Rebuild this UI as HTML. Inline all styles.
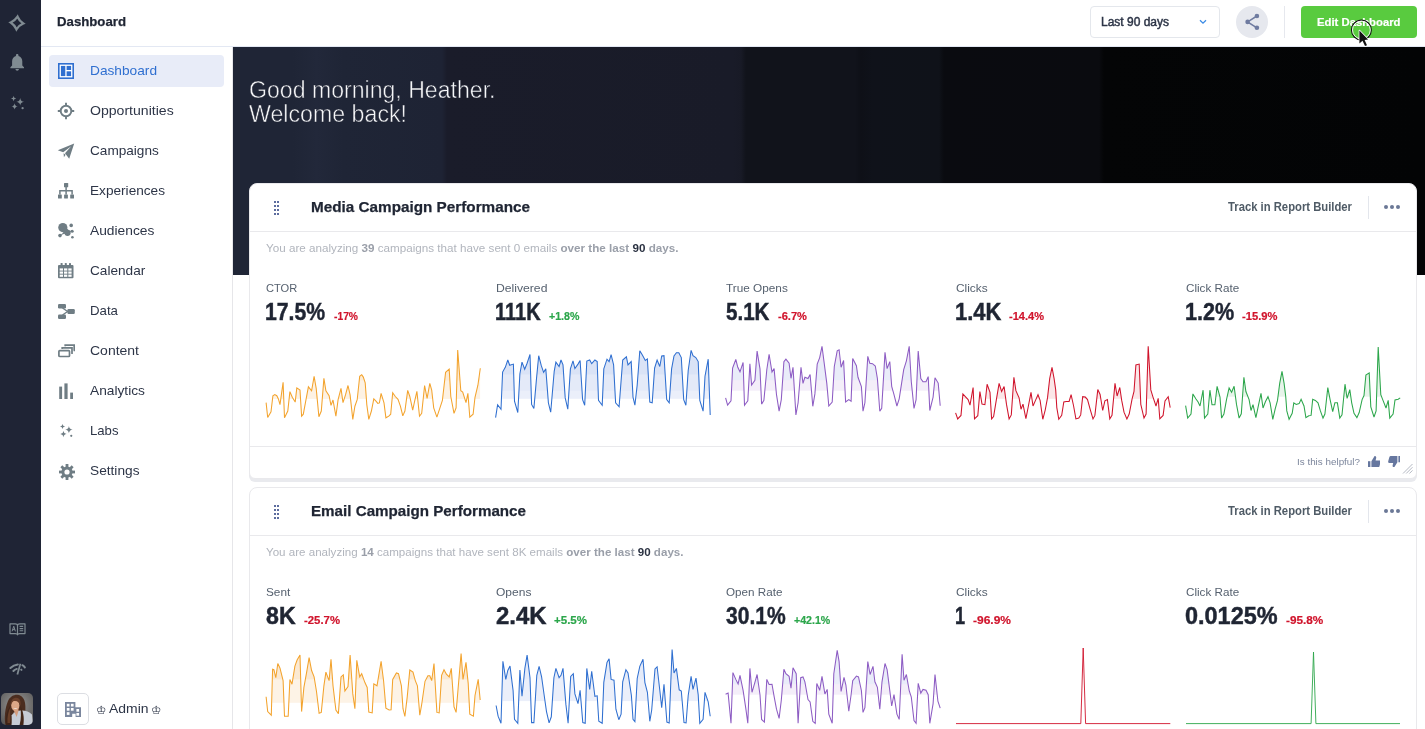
<!DOCTYPE html><html lang="en"><head><meta charset="utf-8"><title>Dashboard</title><style>
*{box-sizing:border-box;margin:0;padding:0}
html,body{width:1425px;height:729px;overflow:hidden;background:#fff;font-family:"Liberation Sans","DejaVu Sans",sans-serif;}
.t{position:absolute;white-space:nowrap;line-height:1;transform-origin:0 50%;display:block}
.abs{position:absolute}
.w{position:static;display:block;list-style:none;text-decoration:none;font:inherit}
h1,h2,h3,p,strong,em,a{font-style:normal}
#rail{position:absolute;left:0;top:0;width:41px;height:729px;background:#1f2435}
#topbar{position:absolute;left:41px;top:0;width:1384px;height:47px;background:#fff;border-bottom:1px solid #e3e8f3}
#sidebar{position:absolute;left:41px;top:47px;width:192px;height:682px;background:#fff;border-right:1px solid #e6e6e9}
#main{position:absolute;left:233px;top:47px;width:1192px;height:682px;background:#fff;overflow:hidden}
#hero{position:absolute;left:0;top:0;width:1192px;height:228px;
 background:linear-gradient(90deg,#1f2536 0px,#1f2536 60px,#22283a 84px,#1f2536 110px,#1e2334 209px,#1a1c2a 214px,#191b28 500px,#181a26 508px,#11131b 513px,#11131b 622px,#0e1017 628px,#0f121a 640px,#0f1219 706px,#0a0b10 711px,#0a0b0f 866px,#040506 871px,#030405 1192px)}
.card{position:absolute;left:16px;width:1168px;background:#fff;border:1px solid #e9e9ec;border-radius:8px 8px 6px 6px;box-shadow:0 3px 0 #e9eaee}
.hsep{position:absolute;left:0;right:0;height:1px;background:#e9e9ec}
.navact{position:absolute;left:8px;top:8px;width:175px;height:32px;border-radius:4px;background:#e8ecf8}
</style></head><body>
<main class="w">
<div id="main"><div id="hero"></div></div>
<div class="w greeting">
<h1 class="t" style="left:249.30px;top:78.50px;font-size:23px;font-weight:400;color:#f6f7f9;transform:scaleX(1.0041);-webkit-text-stroke:0.5px #1d2131;">Good morning, Heather.</h1>
<h1 class="t" style="left:249.30px;top:102.50px;font-size:23px;font-weight:400;color:#f6f7f9;transform:scaleX(1.0076);-webkit-text-stroke:0.5px #1d2131;">Welcome back!</h1>
</div>
<section class="w widget">
<div class="card" style="left:249px;top:183px;height:296px"></div>
<header class="w">
<svg class="abs" style="left:274px;top:201px" width="5" height="14" viewBox="0 0 5 14" shape-rendering="crispEdges"><rect x="0" y="0" width="2" height="2" fill="#5c6c9e"/><rect x="3" y="0" width="2" height="2" fill="#5c6c9e"/><rect x="0" y="4" width="2" height="2" fill="#5c6c9e"/><rect x="3" y="4" width="2" height="2" fill="#5c6c9e"/><rect x="0" y="8" width="2" height="2" fill="#5c6c9e"/><rect x="3" y="8" width="2" height="2" fill="#5c6c9e"/><rect x="0" y="12" width="2" height="2" fill="#5c6c9e"/><rect x="3" y="12" width="2" height="2" fill="#5c6c9e"/></svg>
<h2 class="t" style="left:311.00px;top:198.75px;font-size:15.5px;font-weight:700;color:#1f2533;transform:scaleX(0.9854);-webkit-text-stroke:0.25px #1f2533;">Media Campaign Performance</h2>
<a class="t" style="left:1228.40px;top:201.00px;font-size:12px;font-weight:700;color:#4f5b66;transform:scaleX(0.9392);">Track in Report Builder</a>
<div class="abs" style="left:1368px;top:196px;width:1px;height:23px;background:#e3e6ec"></div>
<svg class="abs" style="left:1383px;top:204px" width="18" height="6" viewBox="0 0 18 6"><circle cx="3" cy="3" r="2" fill="#6b7896"/><circle cx="9" cy="3" r="2" fill="#6b7896"/><circle cx="15" cy="3" r="2" fill="#6b7896"/></svg>
<div class="hsep" style="left:250px;width:1166px;top:231px"></div>
</header>
<p class="t" style="left:266.30px;top:242.50px;font-size:11px;font-weight:400;color:#b1b5bd;transform:scaleX(1.0599);">You are analyzing <b style="color:#9a9fa9">39</b> campaigns that have sent 0 emails <b style="color:#9a9fa9">over the last</b> <b style="color:#2b3242">90</b> <b style="color:#9a9fa9">days.</b></p>
<ul class="w metrics">
<li class="w metric">
<span class="t" style="left:266.00px;top:282.50px;font-size:11px;font-weight:400;color:#56616f;transform:scaleX(1.0107);">CTOR</span>
<strong class="t" style="left:264.60px;top:300.50px;font-size:23px;font-weight:700;color:#1f2533;transform:scaleX(0.9215);-webkit-text-stroke:0.45px #1f2533;">17.5%</strong>
<em class="t" style="left:333.50px;top:310.50px;font-size:11px;font-weight:700;color:#d0142c;transform:scaleX(0.9343);-webkit-text-stroke:0.2px #d0142c;">-17%</em>
<svg class="abs" style="left:260px;top:340px" width="230" height="95" viewBox="0 0 230 95"><defs><clipPath id="kc1"><path d="M6.1 95 L6.1 62.6 L7.7 77.5 L11.0 71.8 L12.9 55.7 L14.8 54.6 L16.8 55.7 L18.4 58.9 L20.0 64.6 L23.1 42.3 L24.5 77.8 L27.8 71.0 L29.9 51.6 L32.3 57.3 L35.2 62.1 L36.8 47.9 L40.0 50.0 L41.6 76.2 L43.3 74.2 L46.0 59.7 L48.4 46.8 L51.6 50.8 L54.1 36.3 L56.2 48.4 L58.9 76.7 L61.3 71.0 L63.9 38.4 L65.9 50.8 L69.1 55.7 L71.0 65.4 L73.0 60.0 L75.9 76.2 L78.1 59.7 L81.0 48.4 L83.0 62.6 L85.5 54.9 L88.0 45.5 L90.1 54.9 L92.8 79.4 L94.9 66.2 L97.2 59.7 L99.7 36.3 L101.7 34.7 L103.3 37.1 L105.2 42.8 L106.8 64.6 L108.8 79.4 L111.4 71.0 L113.8 58.9 L116.2 61.3 L117.8 63.3 L119.4 62.9 L121.1 53.3 L124.0 62.9 L125.9 77.8 L128.8 76.2 L130.7 74.2 L132.7 52.8 L135.3 56.5 L138.0 59.4 L140.4 66.2 L142.8 75.9 L144.9 71.0 L147.7 50.4 L149.8 56.5 L152.7 70.2 L154.6 61.3 L156.9 51.3 L159.5 76.2 L161.7 73.4 L164.6 45.5 L167.1 58.4 L169.8 43.3 L171.7 50.0 L173.7 67.8 L176.9 77.2 L179.2 70.2 L182.4 60.5 L185.6 32.3 L189.2 29.1 L190.8 56.5 L194.0 73.4 L196.1 67.8 L197.7 10.0 L200.8 50.8 L202.7 52.0 L206.0 62.6 L207.9 53.3 L209.8 77.2 L213.1 74.2 L215.0 57.3 L217.9 45.2 L220.3 28.2 L220.3 95Z"/></clipPath></defs><g clip-path="url(#kc1)"><rect x="12.6" y="0" width="207.7" height="58.9" fill="#fdf2e4"/><rect x="12.6" y="0" width="207.7" height="40.4" fill="#fcebd5"/></g><polyline points="6.1,62.6 7.7,77.5 11.0,71.8 12.9,55.7 14.8,54.6 16.8,55.7 18.4,58.9 20.0,64.6 23.1,42.3 24.5,77.8 27.8,71.0 29.9,51.6 32.3,57.3 35.2,62.1 36.8,47.9 40.0,50.0 41.6,76.2 43.3,74.2 46.0,59.7 48.4,46.8 51.6,50.8 54.1,36.3 56.2,48.4 58.9,76.7 61.3,71.0 63.9,38.4 65.9,50.8 69.1,55.7 71.0,65.4 73.0,60.0 75.9,76.2 78.1,59.7 81.0,48.4 83.0,62.6 85.5,54.9 88.0,45.5 90.1,54.9 92.8,79.4 94.9,66.2 97.2,59.7 99.7,36.3 101.7,34.7 103.3,37.1 105.2,42.8 106.8,64.6 108.8,79.4 111.4,71.0 113.8,58.9 116.2,61.3 117.8,63.3 119.4,62.9 121.1,53.3 124.0,62.9 125.9,77.8 128.8,76.2 130.7,74.2 132.7,52.8 135.3,56.5 138.0,59.4 140.4,66.2 142.8,75.9 144.9,71.0 147.7,50.4 149.8,56.5 152.7,70.2 154.6,61.3 156.9,51.3 159.5,76.2 161.7,73.4 164.6,45.5 167.1,58.4 169.8,43.3 171.7,50.0 173.7,67.8 176.9,77.2 179.2,70.2 182.4,60.5 185.6,32.3 189.2,29.1 190.8,56.5 194.0,73.4 196.1,67.8 197.7,10.0 200.8,50.8 202.7,52.0 206.0,62.6 207.9,53.3 209.8,77.2 213.1,74.2 215.0,57.3 217.9,45.2 220.3,28.2" fill="none" stroke="#f3a32d" stroke-width="1.05" stroke-linejoin="miter" stroke-miterlimit="3"/></svg>
</li>
<li class="w metric">
<span class="t" style="left:496.00px;top:282.50px;font-size:11px;font-weight:400;color:#56616f;transform:scaleX(1.1061);">Delivered</span>
<strong class="t" style="left:494.60px;top:300.50px;font-size:23px;font-weight:700;color:#1f2533;transform:scaleX(0.8693);-webkit-text-stroke:0.45px #1f2533;">111K</strong>
<em class="t" style="left:548.60px;top:310.50px;font-size:11px;font-weight:700;color:#2ca64b;transform:scaleX(0.9651);-webkit-text-stroke:0.2px #2ca64b;">+1.8%</em>
<svg class="abs" style="left:490px;top:335px" width="230" height="95" viewBox="0 0 230 95"><defs><clipPath id="kc2"><path d="M5.6 95 L5.6 82.6 L7.6 69.7 L11.0 74.2 L12.6 37.1 L15.3 32.3 L17.8 25.0 L19.7 30.3 L23.4 29.1 L24.5 66.2 L27.8 77.5 L29.9 38.7 L32.0 27.1 L34.7 34.2 L37.1 28.2 L40.0 19.4 L41.6 69.4 L43.9 73.4 L46.5 43.6 L48.7 20.7 L51.3 30.7 L53.6 37.4 L55.8 33.9 L58.4 67.8 L60.7 77.2 L64.2 36.3 L65.9 27.1 L69.1 31.5 L71.0 25.0 L73.0 29.9 L75.2 62.9 L77.8 74.2 L80.4 33.9 L83.0 25.8 L84.9 33.6 L88.0 29.1 L90.1 25.5 L92.6 64.6 L94.7 70.2 L96.8 26.1 L99.7 25.0 L101.7 28.7 L104.9 25.0 L107.2 26.6 L108.5 65.4 L112.2 70.2 L113.8 33.9 L117.0 24.2 L119.1 26.6 L121.1 19.7 L123.6 29.9 L125.6 67.8 L129.1 71.8 L132.7 25.0 L136.4 21.8 L138.0 29.9 L141.2 26.6 L143.0 62.1 L144.9 70.2 L147.2 50.0 L149.8 15.8 L152.5 20.2 L155.3 25.5 L157.4 23.9 L159.8 67.0 L162.2 67.8 L164.6 33.1 L167.1 25.0 L169.8 31.5 L171.7 21.0 L174.0 20.7 L176.7 64.6 L179.2 67.8 L181.6 33.9 L184.0 21.0 L186.4 17.8 L188.8 17.8 L191.3 22.6 L193.7 64.6 L195.9 70.2 L198.2 35.5 L201.1 15.3 L203.0 20.7 L205.8 22.6 L208.2 26.6 L209.8 65.4 L213.1 76.2 L215.0 41.2 L218.2 24.2 L220.2 79.9 L220.2 95Z"/></clipPath></defs><g clip-path="url(#kc2)"><rect x="12.3" y="0" width="207.9" height="63.8" fill="#ebeffa"/><rect x="12.3" y="0" width="207.9" height="55.7" fill="#e4eaf8"/><rect x="12.3" y="0" width="207.9" height="39.5" fill="#dae3f6"/></g><polyline points="5.6,82.6 7.6,69.7 11.0,74.2 12.6,37.1 15.3,32.3 17.8,25.0 19.7,30.3 23.4,29.1 24.5,66.2 27.8,77.5 29.9,38.7 32.0,27.1 34.7,34.2 37.1,28.2 40.0,19.4 41.6,69.4 43.9,73.4 46.5,43.6 48.7,20.7 51.3,30.7 53.6,37.4 55.8,33.9 58.4,67.8 60.7,77.2 64.2,36.3 65.9,27.1 69.1,31.5 71.0,25.0 73.0,29.9 75.2,62.9 77.8,74.2 80.4,33.9 83.0,25.8 84.9,33.6 88.0,29.1 90.1,25.5 92.6,64.6 94.7,70.2 96.8,26.1 99.7,25.0 101.7,28.7 104.9,25.0 107.2,26.6 108.5,65.4 112.2,70.2 113.8,33.9 117.0,24.2 119.1,26.6 121.1,19.7 123.6,29.9 125.6,67.8 129.1,71.8 132.7,25.0 136.4,21.8 138.0,29.9 141.2,26.6 143.0,62.1 144.9,70.2 147.2,50.0 149.8,15.8 152.5,20.2 155.3,25.5 157.4,23.9 159.8,67.0 162.2,67.8 164.6,33.1 167.1,25.0 169.8,31.5 171.7,21.0 174.0,20.7 176.7,64.6 179.2,67.8 181.6,33.9 184.0,21.0 186.4,17.8 188.8,17.8 191.3,22.6 193.7,64.6 195.9,70.2 198.2,35.5 201.1,15.3 203.0,20.7 205.8,22.6 208.2,26.6 209.8,65.4 213.1,76.2 215.0,41.2 218.2,24.2 220.2,79.9" fill="none" stroke="#2f6fd0" stroke-width="1.05" stroke-linejoin="miter" stroke-miterlimit="3"/></svg>
</li>
<li class="w metric">
<span class="t" style="left:726.00px;top:282.50px;font-size:11px;font-weight:400;color:#56616f;transform:scaleX(1.0713);">True Opens</span>
<strong class="t" style="left:725.50px;top:300.50px;font-size:23px;font-weight:700;color:#1f2533;transform:scaleX(0.8952);-webkit-text-stroke:0.45px #1f2533;">5.1K</strong>
<em class="t" style="left:777.50px;top:310.50px;font-size:11px;font-weight:700;color:#d0142c;transform:scaleX(1.0087);-webkit-text-stroke:0.2px #d0142c;">-6.7%</em>
<svg class="abs" style="left:720px;top:335px" width="230" height="95" viewBox="0 0 230 95"><defs><clipPath id="kc3"><path d="M5.6 95 L5.6 62.9 L7.6 70.2 L11.0 65.9 L12.6 33.1 L15.8 24.5 L17.8 32.3 L20.0 36.8 L23.1 27.4 L24.5 70.2 L27.8 65.9 L29.9 28.7 L31.6 50.0 L34.9 45.2 L37.1 16.1 L40.0 33.9 L41.6 69.1 L43.9 65.4 L46.8 34.7 L49.1 19.4 L52.0 37.1 L54.1 33.6 L56.5 59.7 L59.1 76.2 L61.3 64.6 L63.9 26.6 L65.9 24.2 L69.1 28.2 L71.0 43.3 L73.0 32.3 L75.9 79.9 L78.1 67.8 L81.0 32.3 L83.0 48.4 L84.9 42.3 L88.0 43.6 L90.1 39.5 L92.8 71.3 L94.9 58.9 L97.2 29.1 L99.7 22.6 L102.0 11.3 L104.1 27.4 L106.8 48.4 L108.8 71.0 L112.2 67.0 L114.3 31.5 L117.2 15.8 L119.1 14.8 L121.1 32.3 L123.6 25.5 L125.6 67.0 L128.8 64.6 L131.1 66.2 L132.7 23.4 L136.4 30.7 L138.0 42.3 L141.4 51.6 L143.0 76.2 L144.9 67.8 L147.8 21.3 L149.8 28.2 L152.5 28.7 L155.3 31.0 L157.4 43.6 L159.8 76.2 L161.7 73.4 L165.0 17.4 L167.1 33.6 L169.8 26.6 L171.7 51.3 L174.0 59.7 L176.9 71.0 L179.2 63.8 L183.7 34.7 L186.4 25.8 L189.2 11.3 L191.3 46.8 L194.0 73.4 L196.1 64.6 L198.2 16.1 L200.8 43.6 L203.0 46.8 L206.0 46.8 L208.2 41.6 L209.8 75.5 L213.1 62.1 L215.0 42.8 L218.2 48.1 L220.2 70.7 L220.2 95Z"/></clipPath></defs><g clip-path="url(#kc3)"><rect x="12.3" y="0" width="207.9" height="55.7" fill="#f4eef9"/><rect x="12.3" y="0" width="207.9" height="45.2" fill="#e9ecf9"/><rect x="12.3" y="0" width="207.9" height="26.6" fill="#f0e8f7"/></g><polyline points="5.6,62.9 7.6,70.2 11.0,65.9 12.6,33.1 15.8,24.5 17.8,32.3 20.0,36.8 23.1,27.4 24.5,70.2 27.8,65.9 29.9,28.7 31.6,50.0 34.9,45.2 37.1,16.1 40.0,33.9 41.6,69.1 43.9,65.4 46.8,34.7 49.1,19.4 52.0,37.1 54.1,33.6 56.5,59.7 59.1,76.2 61.3,64.6 63.9,26.6 65.9,24.2 69.1,28.2 71.0,43.3 73.0,32.3 75.9,79.9 78.1,67.8 81.0,32.3 83.0,48.4 84.9,42.3 88.0,43.6 90.1,39.5 92.8,71.3 94.9,58.9 97.2,29.1 99.7,22.6 102.0,11.3 104.1,27.4 106.8,48.4 108.8,71.0 112.2,67.0 114.3,31.5 117.2,15.8 119.1,14.8 121.1,32.3 123.6,25.5 125.6,67.0 128.8,64.6 131.1,66.2 132.7,23.4 136.4,30.7 138.0,42.3 141.4,51.6 143.0,76.2 144.9,67.8 147.8,21.3 149.8,28.2 152.5,28.7 155.3,31.0 157.4,43.6 159.8,76.2 161.7,73.4 165.0,17.4 167.1,33.6 169.8,26.6 171.7,51.3 174.0,59.7 176.9,71.0 179.2,63.8 183.7,34.7 186.4,25.8 189.2,11.3 191.3,46.8 194.0,73.4 196.1,64.6 198.2,16.1 200.8,43.6 203.0,46.8 206.0,46.8 208.2,41.6 209.8,75.5 213.1,62.1 215.0,42.8 218.2,48.1 220.2,70.7" fill="none" stroke="#8d5cc3" stroke-width="1.05" stroke-linejoin="miter" stroke-miterlimit="3"/></svg>
</li>
<li class="w metric">
<span class="t" style="left:956.00px;top:282.50px;font-size:11px;font-weight:400;color:#56616f;transform:scaleX(1.0803);">Clicks</span>
<strong class="t" style="left:954.60px;top:300.50px;font-size:23px;font-weight:700;color:#1f2533;transform:scaleX(0.9549);-webkit-text-stroke:0.45px #1f2533;">1.4K</strong>
<em class="t" style="left:1009.30px;top:310.50px;font-size:11px;font-weight:700;color:#d0142c;transform:scaleX(1.0040);-webkit-text-stroke:0.2px #d0142c;">-14.4%</em>
<svg class="abs" style="left:950px;top:335px" width="230" height="95" viewBox="0 0 230 95"><defs><clipPath id="kc4"><path d="M5.6 95 L5.6 77.8 L7.7 83.9 L11.0 80.4 L12.9 58.9 L15.8 62.1 L18.1 64.6 L20.0 70.2 L23.1 52.5 L24.5 83.9 L27.8 80.7 L29.9 56.5 L32.0 69.1 L34.9 69.7 L37.1 49.2 L40.0 57.3 L41.6 83.9 L43.6 81.5 L46.5 63.8 L49.1 48.4 L51.6 56.5 L54.1 51.6 L56.5 69.4 L59.1 83.9 L61.3 79.9 L63.9 42.3 L65.9 55.7 L69.1 62.9 L71.0 74.2 L73.0 69.1 L75.9 83.6 L78.4 71.0 L81.0 57.3 L83.0 71.0 L85.5 65.4 L88.0 59.7 L90.1 65.4 L92.8 84.3 L95.2 75.1 L97.5 62.9 L99.7 43.6 L102.0 32.3 L104.1 43.6 L105.7 54.9 L106.8 72.6 L108.8 84.3 L111.7 80.4 L113.8 67.0 L116.2 66.5 L119.1 66.5 L121.1 59.7 L123.6 71.0 L125.9 83.9 L128.8 83.1 L130.7 79.9 L132.7 61.7 L135.3 62.1 L137.5 64.6 L140.4 75.1 L143.0 83.9 L144.9 80.4 L147.8 54.6 L150.1 59.4 L152.7 75.5 L154.9 65.9 L157.4 64.6 L159.8 83.9 L162.0 80.4 L165.0 48.4 L167.1 61.0 L169.8 52.5 L171.7 65.4 L174.0 77.2 L176.9 83.9 L179.2 79.1 L182.1 63.8 L184.0 56.5 L185.9 29.9 L189.2 29.1 L190.8 69.4 L194.0 83.1 L196.1 79.1 L198.2 11.3 L200.8 54.9 L203.0 62.1 L206.0 71.0 L208.2 63.3 L209.8 83.9 L213.1 80.4 L215.0 65.9 L218.2 61.7 L220.2 72.6 L220.2 95Z"/></clipPath></defs><g clip-path="url(#kc4)"><rect x="12.6" y="0" width="207.5" height="63.8" fill="#fbe6e8"/></g><polyline points="5.6,77.8 7.7,83.9 11.0,80.4 12.9,58.9 15.8,62.1 18.1,64.6 20.0,70.2 23.1,52.5 24.5,83.9 27.8,80.7 29.9,56.5 32.0,69.1 34.9,69.7 37.1,49.2 40.0,57.3 41.6,83.9 43.6,81.5 46.5,63.8 49.1,48.4 51.6,56.5 54.1,51.6 56.5,69.4 59.1,83.9 61.3,79.9 63.9,42.3 65.9,55.7 69.1,62.9 71.0,74.2 73.0,69.1 75.9,83.6 78.4,71.0 81.0,57.3 83.0,71.0 85.5,65.4 88.0,59.7 90.1,65.4 92.8,84.3 95.2,75.1 97.5,62.9 99.7,43.6 102.0,32.3 104.1,43.6 105.7,54.9 106.8,72.6 108.8,84.3 111.7,80.4 113.8,67.0 116.2,66.5 119.1,66.5 121.1,59.7 123.6,71.0 125.9,83.9 128.8,83.1 130.7,79.9 132.7,61.7 135.3,62.1 137.5,64.6 140.4,75.1 143.0,83.9 144.9,80.4 147.8,54.6 150.1,59.4 152.7,75.5 154.9,65.9 157.4,64.6 159.8,83.9 162.0,80.4 165.0,48.4 167.1,61.0 169.8,52.5 171.7,65.4 174.0,77.2 176.9,83.9 179.2,79.1 182.1,63.8 184.0,56.5 185.9,29.9 189.2,29.1 190.8,69.4 194.0,83.1 196.1,79.1 198.2,11.3 200.8,54.9 203.0,62.1 206.0,71.0 208.2,63.3 209.8,83.9 213.1,80.4 215.0,65.9 218.2,61.7 220.2,72.6" fill="none" stroke="#d0142c" stroke-width="1.05" stroke-linejoin="miter" stroke-miterlimit="3"/></svg>
</li>
<li class="w metric">
<span class="t" style="left:1186.00px;top:282.50px;font-size:11px;font-weight:400;color:#56616f;transform:scaleX(1.0613);">Click Rate</span>
<strong class="t" style="left:1184.60px;top:300.50px;font-size:23px;font-weight:700;color:#1f2533;transform:scaleX(0.9383);-webkit-text-stroke:0.45px #1f2533;">1.2%</strong>
<em class="t" style="left:1242.10px;top:310.50px;font-size:11px;font-weight:700;color:#d0142c;transform:scaleX(1.0155);-webkit-text-stroke:0.2px #d0142c;">-15.9%</em>
<svg class="abs" style="left:1180px;top:335px" width="230" height="95" viewBox="0 0 230 95"><defs><clipPath id="kc5"><path d="M5.6 95 L5.6 70.7 L7.7 83.1 L11.0 79.1 L12.9 58.9 L15.8 63.8 L18.1 67.0 L20.0 71.0 L23.1 55.2 L24.5 83.1 L27.8 79.1 L29.9 55.2 L32.0 69.7 L34.9 69.7 L37.1 51.3 L40.0 62.1 L41.6 83.1 L43.9 79.1 L46.5 64.6 L49.1 52.9 L51.6 57.3 L54.1 51.3 L56.5 69.4 L59.1 83.1 L61.3 78.8 L63.9 42.3 L65.9 56.5 L69.1 64.6 L71.0 75.5 L73.0 69.7 L75.9 82.6 L78.4 70.7 L81.0 58.4 L83.0 73.0 L85.5 66.5 L88.0 61.7 L90.1 67.8 L92.8 84.3 L95.2 73.9 L97.5 65.4 L99.7 48.4 L102.0 36.3 L104.1 48.4 L105.7 61.3 L106.8 75.9 L109.1 84.3 L112.2 78.3 L113.8 67.8 L116.2 69.4 L119.1 68.6 L121.1 64.2 L124.0 71.0 L125.9 82.6 L128.8 80.7 L131.1 80.4 L132.7 64.2 L135.3 65.4 L138.0 67.8 L140.4 75.9 L143.0 83.1 L144.9 79.1 L147.8 52.5 L150.1 64.6 L152.7 76.7 L154.9 67.8 L157.4 67.8 L159.8 83.1 L162.0 79.9 L165.0 49.2 L167.1 63.3 L169.8 54.6 L171.7 67.8 L174.0 78.3 L176.9 82.6 L179.2 77.5 L182.1 64.6 L184.0 60.5 L185.9 40.0 L189.2 37.9 L190.8 71.8 L194.0 82.0 L196.1 75.9 L198.2 12.1 L200.8 59.7 L203.0 65.4 L206.0 73.0 L208.2 65.4 L209.8 83.1 L213.1 79.1 L215.0 64.9 L218.2 64.2 L220.2 62.9 L220.2 95Z"/></clipPath></defs><g clip-path="url(#kc5)"><rect x="12.6" y="0" width="207.5" height="61.7" fill="#e7f4ea"/></g><polyline points="5.6,70.7 7.7,83.1 11.0,79.1 12.9,58.9 15.8,63.8 18.1,67.0 20.0,71.0 23.1,55.2 24.5,83.1 27.8,79.1 29.9,55.2 32.0,69.7 34.9,69.7 37.1,51.3 40.0,62.1 41.6,83.1 43.9,79.1 46.5,64.6 49.1,52.9 51.6,57.3 54.1,51.3 56.5,69.4 59.1,83.1 61.3,78.8 63.9,42.3 65.9,56.5 69.1,64.6 71.0,75.5 73.0,69.7 75.9,82.6 78.4,70.7 81.0,58.4 83.0,73.0 85.5,66.5 88.0,61.7 90.1,67.8 92.8,84.3 95.2,73.9 97.5,65.4 99.7,48.4 102.0,36.3 104.1,48.4 105.7,61.3 106.8,75.9 109.1,84.3 112.2,78.3 113.8,67.8 116.2,69.4 119.1,68.6 121.1,64.2 124.0,71.0 125.9,82.6 128.8,80.7 131.1,80.4 132.7,64.2 135.3,65.4 138.0,67.8 140.4,75.9 143.0,83.1 144.9,79.1 147.8,52.5 150.1,64.6 152.7,76.7 154.9,67.8 157.4,67.8 159.8,83.1 162.0,79.9 165.0,49.2 167.1,63.3 169.8,54.6 171.7,67.8 174.0,78.3 176.9,82.6 179.2,77.5 182.1,64.6 184.0,60.5 185.9,40.0 189.2,37.9 190.8,71.8 194.0,82.0 196.1,75.9 198.2,12.1 200.8,59.7 203.0,65.4 206.0,73.0 208.2,65.4 209.8,83.1 213.1,79.1 215.0,64.9 218.2,64.2 220.2,62.9" fill="none" stroke="#2ca64b" stroke-width="1.05" stroke-linejoin="miter" stroke-miterlimit="3"/></svg>
</li>
</ul>
<footer class="w">
<div class="hsep" style="left:250px;width:1166px;top:446px"></div>
<span class="t" style="left:1296.80px;top:456.75px;font-size:9.5px;font-weight:400;color:#7c869c;transform:scaleX(1.0373);">Is this helpful?</span>
<svg class="abs" style="left:1367.6px;top:456px" width="12.8" height="11.4" viewBox="0 0 12.8 11.4"><path fill="#66779f" d="M0 5.2H2.4V11.4H0Z"/><path fill="#66779f" d="M3.4 11.4V5.2 L6.6 0 C7.8 0 8.4 0.9 8.2 2 L7.6 4.4H11.2C12.2 4.4 12.8 5.2 12.6 6.1 L11.4 10.4 C11.2 11 10.7 11.4 10 11.4Z"/></svg><svg class="abs" style="left:1387.6px;top:456px" width="12.8" height="11.4" viewBox="0 0 12.8 11.4"><g transform="translate(12.8 11.4) rotate(180)"><path fill="#66779f" d="M0 5.2H2.4V11.4H0Z"/><path fill="#66779f" d="M3.4 11.4V5.2 L6.6 0 C7.8 0 8.4 0.9 8.2 2 L7.6 4.4H11.2C12.2 4.4 12.8 5.2 12.6 6.1 L11.4 10.4 C11.2 11 10.7 11.4 10 11.4Z"/></g></svg><svg class="abs" style="left:1402px;top:463px" width="11" height="11" viewBox="0 0 11 11"><path d="M10.5 1 L1 10.5 M10.5 4.2 L4.2 10.5 M10.5 7.4 L7.4 10.5" stroke="#b4b9c3" stroke-width="1" fill="none"/></svg>
</footer>
</section>
<section class="w widget">
<div class="card" style="left:249px;top:487px;height:300px"></div>
<header class="w">
<svg class="abs" style="left:274px;top:505px" width="5" height="14" viewBox="0 0 5 14" shape-rendering="crispEdges"><rect x="0" y="0" width="2" height="2" fill="#5c6c9e"/><rect x="3" y="0" width="2" height="2" fill="#5c6c9e"/><rect x="0" y="4" width="2" height="2" fill="#5c6c9e"/><rect x="3" y="4" width="2" height="2" fill="#5c6c9e"/><rect x="0" y="8" width="2" height="2" fill="#5c6c9e"/><rect x="3" y="8" width="2" height="2" fill="#5c6c9e"/><rect x="0" y="12" width="2" height="2" fill="#5c6c9e"/><rect x="3" y="12" width="2" height="2" fill="#5c6c9e"/></svg>
<h2 class="t" style="left:311.00px;top:502.75px;font-size:15.5px;font-weight:700;color:#1f2533;transform:scaleX(0.9787);-webkit-text-stroke:0.25px #1f2533;">Email Campaign Performance</h2>
<a class="t" style="left:1228.40px;top:505.00px;font-size:12px;font-weight:700;color:#4f5b66;transform:scaleX(0.9392);">Track in Report Builder</a>
<div class="abs" style="left:1368px;top:500px;width:1px;height:23px;background:#e3e6ec"></div>
<svg class="abs" style="left:1383px;top:508px" width="18" height="6" viewBox="0 0 18 6"><circle cx="3" cy="3" r="2" fill="#6b7896"/><circle cx="9" cy="3" r="2" fill="#6b7896"/><circle cx="15" cy="3" r="2" fill="#6b7896"/></svg>
<div class="hsep" style="left:250px;width:1166px;top:535px"></div>
</header>
<p class="t" style="left:266.30px;top:546.50px;font-size:11px;font-weight:400;color:#b1b5bd;transform:scaleX(1.0529);">You are analyzing <b style="color:#9a9fa9">14</b> campaigns that have sent 8K emails <b style="color:#9a9fa9">over the last</b> <b style="color:#2b3242">90</b> <b style="color:#9a9fa9">days.</b></p>
<ul class="w metrics">
<li class="w metric">
<span class="t" style="left:266.00px;top:586.50px;font-size:11px;font-weight:400;color:#56616f;transform:scaleX(1.0733);">Sent</span>
<strong class="t" style="left:265.50px;top:604.50px;font-size:23px;font-weight:700;color:#1f2533;transform:scaleX(1.0066);-webkit-text-stroke:0.45px #1f2533;">8K</strong>
<em class="t" style="left:303.50px;top:614.50px;font-size:11px;font-weight:700;color:#d0142c;transform:scaleX(1.0327);-webkit-text-stroke:0.2px #d0142c;">-25.7%</em>
<svg class="abs" style="left:260px;top:639px" width="230" height="95" viewBox="0 0 230 95"><defs><clipPath id="kc6"><path d="M6.1 95 L6.1 57.8 L7.7 72.6 L11.3 76.2 L12.6 30.3 L13.9 30.7 L15.8 38.7 L17.8 24.5 L20.0 29.1 L23.1 41.6 L24.5 77.2 L28.2 77.2 L29.9 40.4 L32.0 45.2 L34.9 27.1 L37.1 21.0 L40.0 16.1 L41.6 72.6 L43.9 48.4 L46.8 32.3 L49.1 18.6 L51.6 31.5 L54.1 37.9 L56.5 52.5 L59.1 74.2 L61.3 73.4 L63.9 46.8 L65.9 33.1 L69.1 41.6 L71.0 20.2 L73.0 46.8 L75.9 71.0 L78.4 74.6 L81.0 37.9 L83.3 35.8 L84.9 52.0 L88.0 47.6 L90.1 16.1 L92.8 54.9 L94.9 69.7 L96.8 21.3 L99.7 37.9 L101.7 34.7 L104.9 43.6 L107.2 48.4 L108.8 73.0 L112.2 73.9 L113.8 44.9 L117.0 46.8 L121.1 22.3 L123.6 42.0 L125.9 69.1 L129.1 71.0 L131.1 70.7 L132.7 40.4 L136.4 33.9 L138.5 34.7 L141.4 46.8 L143.0 69.7 L144.9 77.5 L147.2 58.1 L149.8 31.0 L153.0 33.1 L155.3 41.6 L157.4 46.8 L159.8 76.2 L161.7 65.4 L165.0 42.3 L167.9 36.8 L169.8 36.8 L171.7 41.6 L174.0 24.5 L176.9 73.4 L179.2 73.9 L181.6 36.3 L184.0 30.7 L186.4 35.2 L189.2 37.9 L191.3 29.4 L194.0 67.8 L196.1 73.4 L198.8 41.2 L201.1 14.5 L203.0 40.4 L206.0 23.4 L208.2 44.4 L209.8 75.1 L213.4 77.2 L215.0 56.5 L218.2 40.4 L220.2 61.0 L220.2 95Z"/></clipPath></defs><g clip-path="url(#kc6)"><rect x="12.3" y="0" width="207.9" height="63.8" fill="#fdf3e6"/><rect x="12.3" y="0" width="207.9" height="40.4" fill="#fbe9d2"/></g><polyline points="6.1,57.8 7.7,72.6 11.3,76.2 12.6,30.3 13.9,30.7 15.8,38.7 17.8,24.5 20.0,29.1 23.1,41.6 24.5,77.2 28.2,77.2 29.9,40.4 32.0,45.2 34.9,27.1 37.1,21.0 40.0,16.1 41.6,72.6 43.9,48.4 46.8,32.3 49.1,18.6 51.6,31.5 54.1,37.9 56.5,52.5 59.1,74.2 61.3,73.4 63.9,46.8 65.9,33.1 69.1,41.6 71.0,20.2 73.0,46.8 75.9,71.0 78.4,74.6 81.0,37.9 83.3,35.8 84.9,52.0 88.0,47.6 90.1,16.1 92.8,54.9 94.9,69.7 96.8,21.3 99.7,37.9 101.7,34.7 104.9,43.6 107.2,48.4 108.8,73.0 112.2,73.9 113.8,44.9 117.0,46.8 121.1,22.3 123.6,42.0 125.9,69.1 129.1,71.0 131.1,70.7 132.7,40.4 136.4,33.9 138.5,34.7 141.4,46.8 143.0,69.7 144.9,77.5 147.2,58.1 149.8,31.0 153.0,33.1 155.3,41.6 157.4,46.8 159.8,76.2 161.7,65.4 165.0,42.3 167.9,36.8 169.8,36.8 171.7,41.6 174.0,24.5 176.9,73.4 179.2,73.9 181.6,36.3 184.0,30.7 186.4,35.2 189.2,37.9 191.3,29.4 194.0,67.8 196.1,73.4 198.8,41.2 201.1,14.5 203.0,40.4 206.0,23.4 208.2,44.4 209.8,75.1 213.4,77.2 215.0,56.5 218.2,40.4 220.2,61.0" fill="none" stroke="#f3a32d" stroke-width="1.05" stroke-linejoin="miter" stroke-miterlimit="3"/></svg>
</li>
<li class="w metric">
<span class="t" style="left:496.00px;top:586.50px;font-size:11px;font-weight:400;color:#56616f;transform:scaleX(1.0919);">Opens</span>
<strong class="t" style="left:495.50px;top:604.50px;font-size:23px;font-weight:700;color:#1f2533;transform:scaleX(1.0413);-webkit-text-stroke:0.45px #1f2533;">2.4K</strong>
<em class="t" style="left:554.00px;top:614.50px;font-size:11px;font-weight:700;color:#2ca64b;transform:scaleX(1.0476);-webkit-text-stroke:0.2px #2ca64b;">+5.5%</em>
<svg class="abs" style="left:490px;top:639px" width="230" height="95" viewBox="0 0 230 95"><defs><clipPath id="kc7"><path d="M6.1 95 L6.1 66.5 L8.1 77.2 L11.0 84.3 L12.9 22.3 L15.8 40.4 L17.8 31.5 L20.0 27.1 L23.1 51.6 L24.5 80.4 L27.8 84.3 L29.9 31.0 L32.0 57.3 L34.9 29.1 L37.1 16.1 L40.0 38.7 L41.6 83.6 L43.9 83.6 L46.8 36.3 L49.1 27.4 L51.6 37.9 L54.1 55.7 L56.5 72.6 L59.1 83.9 L61.3 77.8 L63.9 38.7 L65.9 29.4 L69.1 38.7 L71.0 36.3 L73.0 29.4 L75.9 65.4 L78.1 84.3 L80.7 37.4 L83.3 34.7 L84.9 54.9 L88.0 64.6 L90.1 51.3 L92.8 83.6 L95.2 84.3 L96.8 29.4 L99.7 50.4 L101.7 32.3 L104.9 57.3 L107.2 56.8 L108.8 82.3 L112.2 84.3 L113.8 43.3 L117.0 23.4 L119.1 19.7 L121.1 40.4 L124.0 41.2 L125.9 70.2 L128.8 80.7 L131.1 75.1 L132.7 42.8 L135.9 30.7 L138.0 33.9 L141.4 56.5 L143.0 80.4 L144.9 82.6 L147.2 39.5 L149.8 27.4 L153.0 20.2 L154.9 43.6 L157.4 53.3 L159.8 82.3 L161.7 71.0 L165.0 29.9 L167.1 27.8 L169.8 51.3 L171.7 68.6 L174.0 45.2 L176.9 83.1 L179.2 83.9 L182.1 10.5 L184.0 33.9 L186.4 29.4 L189.2 50.8 L191.3 52.0 L194.0 83.6 L196.1 83.9 L198.2 56.5 L201.1 37.4 L203.0 50.4 L206.0 39.1 L208.2 55.7 L209.8 84.3 L213.1 80.4 L215.0 53.3 L218.2 62.9 L220.2 77.2 L220.2 95Z"/></clipPath></defs><g clip-path="url(#kc7)"><rect x="12.6" y="0" width="207.5" height="62.1" fill="#ebeffa"/><rect x="12.6" y="0" width="207.5" height="40.4" fill="#e5ebf9"/></g><polyline points="6.1,66.5 8.1,77.2 11.0,84.3 12.9,22.3 15.8,40.4 17.8,31.5 20.0,27.1 23.1,51.6 24.5,80.4 27.8,84.3 29.9,31.0 32.0,57.3 34.9,29.1 37.1,16.1 40.0,38.7 41.6,83.6 43.9,83.6 46.8,36.3 49.1,27.4 51.6,37.9 54.1,55.7 56.5,72.6 59.1,83.9 61.3,77.8 63.9,38.7 65.9,29.4 69.1,38.7 71.0,36.3 73.0,29.4 75.9,65.4 78.1,84.3 80.7,37.4 83.3,34.7 84.9,54.9 88.0,64.6 90.1,51.3 92.8,83.6 95.2,84.3 96.8,29.4 99.7,50.4 101.7,32.3 104.9,57.3 107.2,56.8 108.8,82.3 112.2,84.3 113.8,43.3 117.0,23.4 119.1,19.7 121.1,40.4 124.0,41.2 125.9,70.2 128.8,80.7 131.1,75.1 132.7,42.8 135.9,30.7 138.0,33.9 141.4,56.5 143.0,80.4 144.9,82.6 147.2,39.5 149.8,27.4 153.0,20.2 154.9,43.6 157.4,53.3 159.8,82.3 161.7,71.0 165.0,29.9 167.1,27.8 169.8,51.3 171.7,68.6 174.0,45.2 176.9,83.1 179.2,83.9 182.1,10.5 184.0,33.9 186.4,29.4 189.2,50.8 191.3,52.0 194.0,83.6 196.1,83.9 198.2,56.5 201.1,37.4 203.0,50.4 206.0,39.1 208.2,55.7 209.8,84.3 213.1,80.4 215.0,53.3 218.2,62.9 220.2,77.2" fill="none" stroke="#2f6fd0" stroke-width="1.05" stroke-linejoin="miter" stroke-miterlimit="3"/></svg>
</li>
<li class="w metric">
<span class="t" style="left:726.00px;top:586.50px;font-size:11px;font-weight:400;color:#56616f;transform:scaleX(1.0601);">Open Rate</span>
<strong class="t" style="left:725.50px;top:604.50px;font-size:23px;font-weight:700;color:#1f2533;transform:scaleX(0.9154);-webkit-text-stroke:0.45px #1f2533;">30.1%</strong>
<em class="t" style="left:794.20px;top:614.50px;font-size:11px;font-weight:700;color:#2ca64b;transform:scaleX(0.9648);-webkit-text-stroke:0.2px #2ca64b;">+42.1%</em>
<svg class="abs" style="left:720px;top:639px" width="230" height="95" viewBox="0 0 230 95"><defs><clipPath id="kc8"><path d="M5.6 95 L5.6 55.2 L8.1 54.1 L11.0 84.3 L12.9 33.6 L15.8 40.4 L18.1 44.9 L20.0 36.3 L23.1 51.3 L25.8 69.4 L27.8 84.3 L29.9 29.4 L32.0 53.3 L34.9 43.3 L37.1 35.5 L40.0 55.7 L41.6 80.4 L44.4 83.1 L46.8 40.4 L49.1 45.5 L52.0 45.2 L54.1 57.3 L56.5 70.2 L59.1 79.4 L61.3 61.3 L63.9 30.3 L65.9 34.7 L69.1 37.4 L71.0 49.2 L73.0 28.7 L76.2 34.7 L78.1 84.3 L80.7 38.7 L83.0 37.9 L84.9 42.8 L88.0 60.5 L90.1 62.9 L92.8 82.3 L95.2 84.3 L96.8 44.4 L99.7 51.3 L102.0 37.4 L104.9 54.9 L107.2 50.4 L108.8 75.1 L112.2 84.3 L113.8 34.7 L117.2 11.3 L119.1 22.6 L121.1 52.5 L124.0 38.4 L125.9 46.0 L128.8 72.3 L131.1 55.7 L132.7 41.6 L136.4 37.1 L138.5 37.9 L141.4 51.6 L143.0 73.4 L144.9 68.6 L147.8 22.6 L150.1 35.5 L153.0 27.4 L154.9 42.8 L157.4 48.4 L159.8 70.2 L162.0 42.8 L165.0 24.5 L167.1 30.7 L169.8 51.6 L171.7 67.0 L174.0 55.7 L176.9 75.1 L179.2 80.4 L182.1 15.3 L184.0 41.2 L186.4 35.5 L189.2 51.6 L191.3 58.1 L194.0 81.5 L196.1 84.3 L198.2 44.4 L200.8 54.1 L203.0 50.4 L206.0 51.3 L208.2 55.7 L209.8 84.3 L213.1 64.6 L215.0 35.5 L217.9 62.1 L220.2 69.1 L220.2 95Z"/></clipPath></defs><g clip-path="url(#kc8)"><rect x="12.6" y="0" width="207.5" height="55.7" fill="#f4eef9"/><rect x="12.6" y="0" width="207.5" height="45.2" fill="#e9ecf9"/></g><polyline points="5.6,55.2 8.1,54.1 11.0,84.3 12.9,33.6 15.8,40.4 18.1,44.9 20.0,36.3 23.1,51.3 25.8,69.4 27.8,84.3 29.9,29.4 32.0,53.3 34.9,43.3 37.1,35.5 40.0,55.7 41.6,80.4 44.4,83.1 46.8,40.4 49.1,45.5 52.0,45.2 54.1,57.3 56.5,70.2 59.1,79.4 61.3,61.3 63.9,30.3 65.9,34.7 69.1,37.4 71.0,49.2 73.0,28.7 76.2,34.7 78.1,84.3 80.7,38.7 83.0,37.9 84.9,42.8 88.0,60.5 90.1,62.9 92.8,82.3 95.2,84.3 96.8,44.4 99.7,51.3 102.0,37.4 104.9,54.9 107.2,50.4 108.8,75.1 112.2,84.3 113.8,34.7 117.2,11.3 119.1,22.6 121.1,52.5 124.0,38.4 125.9,46.0 128.8,72.3 131.1,55.7 132.7,41.6 136.4,37.1 138.5,37.9 141.4,51.6 143.0,73.4 144.9,68.6 147.8,22.6 150.1,35.5 153.0,27.4 154.9,42.8 157.4,48.4 159.8,70.2 162.0,42.8 165.0,24.5 167.1,30.7 169.8,51.6 171.7,67.0 174.0,55.7 176.9,75.1 179.2,80.4 182.1,15.3 184.0,41.2 186.4,35.5 189.2,51.6 191.3,58.1 194.0,81.5 196.1,84.3 198.2,44.4 200.8,54.1 203.0,50.4 206.0,51.3 208.2,55.7 209.8,84.3 213.1,64.6 215.0,35.5 217.9,62.1 220.2,69.1" fill="none" stroke="#8d5cc3" stroke-width="1.05" stroke-linejoin="miter" stroke-miterlimit="3"/></svg>
</li>
<li class="w metric">
<span class="t" style="left:956.00px;top:586.50px;font-size:11px;font-weight:400;color:#56616f;transform:scaleX(1.0803);">Clicks</span>
<strong class="t" style="left:954.60px;top:604.50px;font-size:23px;font-weight:700;color:#1f2533;transform:scaleX(0.7893);-webkit-text-stroke:0.45px #1f2533;">1</strong>
<em class="t" style="left:973.40px;top:614.50px;font-size:11px;font-weight:700;color:#d0142c;transform:scaleX(1.0901);-webkit-text-stroke:0.2px #d0142c;">-96.9%</em>
<svg class="abs" style="left:954.8px;top:640px" width="216.3" height="89" viewBox="0 0 216.3 89"><polyline points="1,83.6 125.8,83.6 128.2,8.0 130.6,83.6 215.3,83.6" fill="none" stroke="#d0142c" stroke-width="0.9" stroke-miterlimit="10"/></svg>
</li>
<li class="w metric">
<span class="t" style="left:1186.00px;top:586.50px;font-size:11px;font-weight:400;color:#56616f;transform:scaleX(1.0613);">Click Rate</span>
<strong class="t" style="left:1184.80px;top:604.50px;font-size:23px;font-weight:700;color:#1f2533;transform:scaleX(1.0197);-webkit-text-stroke:0.45px #1f2533;">0.0125%</strong>
<em class="t" style="left:1286.30px;top:614.50px;font-size:11px;font-weight:700;color:#d0142c;transform:scaleX(1.0700);-webkit-text-stroke:0.2px #d0142c;">-95.8%</em>
<svg class="abs" style="left:1184.6px;top:640px" width="216.0" height="89" viewBox="0 0 216.0 89"><polyline points="1,83.6 126.1,83.6 128.5,12.0 130.9,83.6 215.0,83.6" fill="none" stroke="#2ca64b" stroke-width="0.9" stroke-miterlimit="10"/></svg>
</li>
</ul>
</section>
</main>
<header class="w">
<div id="topbar"></div>
<h3 class="t" style="left:57.30px;top:15.00px;font-size:13px;font-weight:700;color:#1f2533;transform:scaleX(1.0161);-webkit-text-stroke:0.25px #1f2533;">Dashboard</h3>
<div class="w select">
<div class="abs" style="left:1090px;top:6px;width:130px;height:32px;border:1px solid #e4e7ec;border-radius:4px;background:#fff"></div>
<span class="t" style="left:1100.80px;top:16.00px;font-size:12px;font-weight:400;color:#2c3446;transform:scaleX(0.9993);-webkit-text-stroke:0.45px #2c3446;">Last 90 days</span>
<svg class="abs" style="left:1199px;top:19px" width="8" height="6" viewBox="0 0 8 6"><path d="M1 1.2 L4 4.2 L7 1.2" fill="none" stroke="#3b8be6" stroke-width="1.3"/></svg>
</div>
<a class="w share">
<div class="abs" style="left:1236px;top:6px;width:32px;height:32px;border-radius:16px;background:#e6e8ee"></div>
<svg class="abs" style="left:1243px;top:11px" width="20" height="22" viewBox="0 0 20 22"><g fill="#6f7ba0"><circle cx="13.9" cy="5" r="2.3"/><circle cx="4.6" cy="10.9" r="2.3"/><circle cx="13.9" cy="16.8" r="2.3"/></g><path d="M13.9 5 L4.6 10.9 L13.9 16.8" fill="none" stroke="#6f7ba0" stroke-width="1.5"/></svg>
</a>
<div class="abs" style="left:1284px;top:6px;width:1px;height:32px;background:#e6e8ee"></div>
<a class="w btn">
<div class="abs" style="left:1301px;top:6px;width:116px;height:32px;border-radius:4px;background:#59cb3f"></div>
<span class="t" style="left:1317.30px;top:17.25px;font-size:11.5px;font-weight:700;color:#fff;transform:scaleX(0.9825);-webkit-text-stroke:0.2px #fff;">Edit Dashboard</span>
</a>
</header>
<nav class="w">
<div id="sidebar"><div class="navact"></div></div>
<a class="w item"><svg class="abs" style="left:58px;top:63px" width="16" height="16" viewBox="0 0 16 16"><rect x="0" y="0" width="16" height="16" fill="#2f6fd0"/><rect x="1.6" y="1.6" width="12.8" height="12.8" fill="#fff"/><rect x="2.9" y="2.9" width="4.4" height="10.2" fill="#2f6fd0"/><rect x="8.6" y="2.9" width="4.5" height="4.1" fill="#2f6fd0"/><rect x="8.6" y="8.3" width="4.5" height="4.8" fill="#2f6fd0"/></svg><span class="t" style="left:90.00px;top:63.75px;font-size:13.5px;font-weight:400;color:#2f6fd0;transform:scaleX(1.0144);">Dashboard</span></a>
<a class="w item"><svg class="abs" style="left:57px;top:102px" width="18" height="18" viewBox="0 0 18 18"><g fill="none" stroke="#6f7d84"><circle cx="9" cy="9" r="5.3" stroke-width="1.9"/><path d="M9 0.8V4M9 14V17.2M0.8 9H4M14 9H17.2" stroke-width="1.9"/></g><circle cx="9" cy="9" r="2" fill="#6f7d84"/></svg><span class="t" style="left:90.00px;top:103.75px;font-size:13.5px;font-weight:400;color:#2d3547;transform:scaleX(1.0424);">Opportunities</span></a>
<a class="w item"><svg class="abs" style="left:57px;top:142px" width="18" height="18" viewBox="0 0 18 18"><path fill="#6f7d84" d="M17.2 1.4 L0.8 8.2 L6.2 10.3 L14.2 4.2 L8 11.2 L12.2 16.8Z"/><path fill="#6f7d84" d="M6.6 11.2 L6.9 15.2 L8.6 12.8Z"/></svg><span class="t" style="left:90.00px;top:143.75px;font-size:13.5px;font-weight:400;color:#2d3547;transform:scaleX(1.0074);">Campaigns</span></a>
<a class="w item"><svg class="abs" style="left:58px;top:183px" width="16" height="16" viewBox="0 0 16 16"><g fill="#6f7d84"><rect x="6" y="0" width="4.2" height="4.2" rx="0.5"/><rect x="0" y="11.6" width="3.8" height="3.8" rx="0.5"/><rect x="6.1" y="11.6" width="3.8" height="3.8" rx="0.5"/><rect x="12.2" y="11.6" width="3.8" height="3.8" rx="0.5"/></g><path d="M8.1 4V11.6M1.9 11.6V7.8H14.1V11.6" fill="none" stroke="#6f7d84" stroke-width="1.5"/></svg><span class="t" style="left:90.00px;top:183.75px;font-size:13.5px;font-weight:400;color:#2d3547;transform:scaleX(1.0095);">Experiences</span></a>
<a class="w item"><svg class="abs" style="left:57px;top:222px" width="18" height="18" viewBox="0 0 18 18"><g fill="#6f7d84"><circle cx="5.8" cy="5.6" r="4.6"/><circle cx="10.6" cy="10.8" r="3.1"/><circle cx="14.2" cy="3.4" r="1.8"/><circle cx="3" cy="13.6" r="1.8"/><circle cx="15.2" cy="9.2" r="1.5"/><circle cx="15.4" cy="15.2" r="1.3"/><path d="M5 9 L9 13.5 L12.5 9 L8.5 5Z"/><path d="M3 13.6 L8 11.5 L7 10 Z M10.6 10.8 L15.2 9.2 L14.5 8 Z"/></g></svg><span class="t" style="left:90.00px;top:223.75px;font-size:13.5px;font-weight:400;color:#2d3547;transform:scaleX(1.0215);">Audiences</span></a>
<a class="w item"><svg class="abs" style="left:58px;top:263px" width="16" height="16" viewBox="0 0 16 16"><rect x="0" y="2" width="15.5" height="13.2" rx="1" fill="#6f7d84"/><g fill="#fff"><rect x="1.7" y="5.4" width="3.3" height="2.2"/><rect x="6.0" y="5.4" width="3.3" height="2.2"/><rect x="10.3" y="5.4" width="3.3" height="2.2"/><rect x="1.7" y="8.5" width="3.3" height="2.2"/><rect x="6.0" y="8.5" width="3.3" height="2.2"/><rect x="10.3" y="8.5" width="3.3" height="2.2"/><rect x="1.7" y="11.6" width="3.3" height="2.2"/><rect x="6.0" y="11.6" width="3.3" height="2.2"/><rect x="10.3" y="11.6" width="3.3" height="2.2"/></g><g fill="#6f7d84"><rect x="2.6" y="0" width="2" height="3" rx="0.6"/><rect x="6.8" y="0" width="2" height="3" rx="0.6"/><rect x="11" y="0" width="2" height="3" rx="0.6"/></g><g fill="#fff"><rect x="0" y="0" width="0" height="0"/></g></svg><span class="t" style="left:90.00px;top:263.75px;font-size:13.5px;font-weight:400;color:#2d3547;transform:scaleX(1.0092);">Calendar</span></a>
<a class="w item"><svg class="abs" style="left:58px;top:302.8px" width="17" height="17" viewBox="0 0 17 17"><g fill="#6f7d84"><rect x="0" y="1" width="8" height="4.4" rx="1.2"/><rect x="0" y="11.6" width="8" height="4.4" rx="1.2"/><rect x="9.4" y="6" width="7.4" height="5" rx="1.2"/></g><path d="M4.5 5 L9.6 8.5 L4.5 12" fill="none" stroke="#6f7d84" stroke-width="1.3"/></svg><span class="t" style="left:90.00px;top:303.75px;font-size:13.5px;font-weight:400;color:#2d3547;transform:scaleX(0.9814);">Data</span></a>
<a class="w item"><svg class="abs" style="left:58px;top:342px" width="17" height="17" viewBox="0 0 17 17"><g fill="none" stroke="#6f7d84" stroke-width="1.7"><rect x="0.9" y="8.6" width="10.6" height="5.9" rx="0.8"/><path d="M4.2 6.9 V5.9 H14 V11.2 H13.2"/><path d="M7.2 4.2 V3.2 H16.2 V8.4 H15.6"/></g></svg><span class="t" style="left:90.00px;top:343.75px;font-size:13.5px;font-weight:400;color:#2d3547;transform:scaleX(1.0360);">Content</span></a>
<a class="w item"><svg class="abs" style="left:58px;top:382.8px" width="16" height="17" viewBox="0 0 16 17"><g fill="#6f7d84"><rect x="1.2" y="3.6" width="2.9" height="12.4"/><rect x="6.4" y="0.4" width="3.2" height="15.6"/><rect x="12.2" y="9.6" width="2.8" height="6.4"/></g></svg><span class="t" style="left:90.00px;top:383.75px;font-size:13.5px;font-weight:400;color:#2d3547;transform:scaleX(1.0179);">Analytics</span></a>
<a class="w item"><svg class="abs" style="left:59.8px;top:424px" width="13.58" height="13.58" viewBox="0 0 14 14"><path fill="#6f7d84" d="M2.6 0.0Q2.8548 2.3452 5.2 2.6Q2.8548 2.8548 2.6 5.2Q2.3452 2.8548 0.0 2.6Q2.3452 2.3452 2.6 0.0ZM9.2 2.0Q9.5724 5.4276 13.0 5.8Q9.5724 6.1724 9.2 9.6Q8.827599999999999 6.1724 5.3999999999999995 5.8Q8.827599999999999 5.4276 9.2 2.0ZM3.6 7.2Q3.9136 10.086400000000001 6.800000000000001 10.4Q3.9136 10.7136 3.6 13.600000000000001Q3.2864 10.7136 0.3999999999999999 10.4Q3.2864 10.086400000000001 3.6 7.2Z"/><circle cx="11.6" cy="12.2" r="1.15" fill="#6f7d84"/></svg><span class="t" style="left:90.00px;top:423.75px;font-size:13.5px;font-weight:400;color:#2d3547;transform:scaleX(0.9733);">Labs</span></a>
<a class="w item"><svg class="abs" style="left:58.5px;top:463.5px" width="16" height="16" viewBox="0 0 16 16"><g fill="#6f7d84"><rect x="6.6" y="0" width="2.8" height="4.4" transform="rotate(0 8 8)"/><rect x="6.6" y="0" width="2.8" height="4.4" transform="rotate(45 8 8)"/><rect x="6.6" y="0" width="2.8" height="4.4" transform="rotate(90 8 8)"/><rect x="6.6" y="0" width="2.8" height="4.4" transform="rotate(135 8 8)"/><rect x="6.6" y="0" width="2.8" height="4.4" transform="rotate(180 8 8)"/><rect x="6.6" y="0" width="2.8" height="4.4" transform="rotate(225 8 8)"/><rect x="6.6" y="0" width="2.8" height="4.4" transform="rotate(270 8 8)"/><rect x="6.6" y="0" width="2.8" height="4.4" transform="rotate(315 8 8)"/></g><circle cx="8" cy="8" r="4.1" fill="none" stroke="#6f7d84" stroke-width="3"/></svg><span class="t" style="left:90.00px;top:463.75px;font-size:13.5px;font-weight:400;color:#2d3547;transform:scaleX(1.0147);">Settings</span></a>
<div class="w account">
<div class="abs" style="left:57px;top:693px;width:32px;height:32px;border:1px solid #dcdee3;border-radius:5px;background:#fff"></div>
<svg class="abs" style="left:65px;top:701.6px" width="16" height="15.6" viewBox="0 0 16 15.6"><path fill="#7a869d" d="M0 0H10.4V5.2H16V15.6H10.6V11.8H7.2V15.6H0Z"/><g fill="#fff"><rect x="1.8" y="1.8" width="2.7" height="2.7"/><rect x="5.9" y="1.8" width="2.7" height="2.7"/><rect x="1.8" y="6" width="2.7" height="2.7"/><rect x="5.9" y="6" width="2.7" height="2.7"/><rect x="1.8" y="10.2" width="2.7" height="2.7"/><rect x="11.4" y="7" width="2.7" height="2.7"/><rect x="11.4" y="11" width="2.7" height="2.7"/></g></svg>
<span class="t" style="left:96.00px;top:704.50px;font-size:11px;font-weight:400;color:#2d3547;transform:scaleX(1.0532);">♔</span>
<span class="t" style="left:109.00px;top:701.75px;font-size:13.5px;font-weight:400;color:#2d3547;transform:scaleX(1.0323);">Admin</span>
<span class="t" style="left:151.20px;top:704.50px;font-size:11px;font-weight:400;color:#2d3547;transform:scaleX(1.0532);">♔</span>
</div>
</nav>
<aside id="rail"><svg class="abs" style="left:7px;top:13.2px" width="20" height="20" viewBox="0 0 20 20"><g transform="rotate(5 10 10)"><path d="M10 3.7 Q12.2 7.8 16.3 10 Q12.2 12.2 10 16.3 Q7.8 12.2 3.7 10 Q7.8 7.8 10 3.7Z" fill="none" stroke="#808b92" stroke-width="2.3" stroke-linejoin="miter" stroke-miterlimit="6"/></g></svg><svg class="abs" style="left:6.8px;top:52.3px" width="20.4" height="20.4" viewBox="0 0 24 24"><path fill="#808b92" d="M12 22c1.1 0 2-.9 2-2h-4c0 1.1.9 2 2 2zm6-6v-5c0-3.07-1.63-5.64-4.5-6.32V4c0-.83-.67-1.5-1.5-1.5s-1.5.67-1.5 1.5v.68C7.64 5.36 6 7.92 6 11v5l-2 2v1h16v-1l-2-2z"/></svg><svg class="abs" style="left:10.5px;top:96px" width="14.0" height="14.0" viewBox="0 0 14 14"><path fill="#808b92" d="M2.6 0.0Q2.8548 2.3452 5.2 2.6Q2.8548 2.8548 2.6 5.2Q2.3452 2.8548 0.0 2.6Q2.3452 2.3452 2.6 0.0ZM9.2 2.0Q9.5724 5.4276 13.0 5.8Q9.5724 6.1724 9.2 9.6Q8.827599999999999 6.1724 5.3999999999999995 5.8Q8.827599999999999 5.4276 9.2 2.0ZM3.6 7.2Q3.9136 10.086400000000001 6.800000000000001 10.4Q3.9136 10.7136 3.6 13.600000000000001Q3.2864 10.7136 0.3999999999999999 10.4Q3.2864 10.086400000000001 3.6 7.2Z"/><circle cx="11.6" cy="12.2" r="1.15" fill="#808b92"/></svg><svg class="abs" style="left:8.5px;top:621.5px" width="17" height="14" viewBox="0 0 17 14"><g fill="none" stroke="#808b92" stroke-width="1.2" stroke-linejoin="round"><path d="M1 1.8 H6.2 Q8.5 1.8 8.5 3.4 Q8.5 1.8 10.8 1.8 H16 V11.6 H10.6 Q8.5 11.6 8.5 12.8 Q8.5 11.6 6.4 11.6 H1Z"/><path d="M8.5 3.4V12.6"/><path d="M10.6 4.4H14.2M10.6 6.6H14.2M10.6 8.8H14.2" stroke-width="1.1"/><path d="M3.1 9.3 L4.75 4.2 L6.4 9.3 M3.7 7.6 H5.8" stroke-width="1"/></g></svg><svg class="abs" style="left:8.5px;top:661.5px" width="17" height="14" viewBox="0 0 17 14"><g fill="none" stroke="#808b92" stroke-width="2" stroke-linecap="round"><path d="M1.4 6 Q4.6 2.8 8.8 2.4"/><path d="M13.4 3.2 Q14.8 3.9 15.8 5.4"/><path d="M4.4 9 Q5.8 7.4 7.8 6.9"/><path d="M12.2 7.6 L12.5 7.9"/></g><path d="M10.6 1.6 L12.2 2 L9.2 12.8 L7.5 12.3Z" fill="#808b92"/></svg><svg class="abs" style="left:1px;top:693px" width="32" height="32" viewBox="0 0 32 32"><defs><clipPath id="avc"><rect x="0" y="0" width="32" height="32" rx="5"/></clipPath><radialGradient id="avg" cx="48%" cy="38%" r="75%"><stop offset="0" stop-color="#9b9a99"/><stop offset="0.55" stop-color="#747372"/><stop offset="1" stop-color="#555453"/></radialGradient></defs><g clip-path="url(#avc)"><rect width="32" height="32" fill="url(#avg)"/><path d="M4.5 32 C3 25 4 15 7 8 C9 3.5 13 1.5 16.5 1.8 C21 2.2 23.6 6 24.2 11 C24.8 16 24 24 22.5 32Z" fill="#4b2d1f"/><path d="M10 32 L10.5 22.5 C12 20 15 18.5 19 17.6 C23 17 28 18 31 21.5 L32 32Z" fill="#c6ccd6"/><path d="M12.6 17 L15.6 24 L18 16.5Z" fill="#d39c7e"/><ellipse cx="14.3" cy="12.4" rx="4.1" ry="5.4" fill="#dba787"/><path d="M9.6 12.5 C9.6 7 12.5 4.6 15.5 4.8 C18.6 5 20.2 8 19.4 12.5 C18.6 9 16 7.4 12.8 8 C11.2 9 10.2 10.6 9.6 12.5Z" fill="#6a402b"/><path d="M12 14.8 Q14.4 17.2 16.8 14.8 Q14.4 15.8 12 14.8Z" fill="#f4efec"/><path d="M5 32 C4 25 5.5 18 9.4 12.5 C9 18 11.5 25 10.5 32Z" fill="#3f2519"/><path d="M19.4 13 C22 18 23.6 24 22.4 32 L18.6 32 C20.4 26 20 19 19.4 13Z" fill="#432719"/><path d="M6.5 30 C6 24 7.5 18 9.6 14 C9 20 10 25 9 30Z" fill="#7a4a31" opacity="0.7"/></g></svg></aside>
<svg class="abs" style="left:1348px;top:17px" width="28" height="32" viewBox="0 0 28 32"><circle cx="13.4" cy="13" r="9.9" fill="none" stroke="#111" stroke-width="1.2"/><circle cx="13.4" cy="13" r="8.9" fill="none" stroke="#fff" stroke-width="0.9"/><path d="M11.4 13.5 L11.4 26.6 L14.5 23.8 L17.0 29.1 L19.0 28.2 L16.6 23.1 L20.1 22.4Z" fill="#111" stroke="#fff" stroke-width="1.5" stroke-linejoin="round" paint-order="stroke"/></svg>
</body></html>
